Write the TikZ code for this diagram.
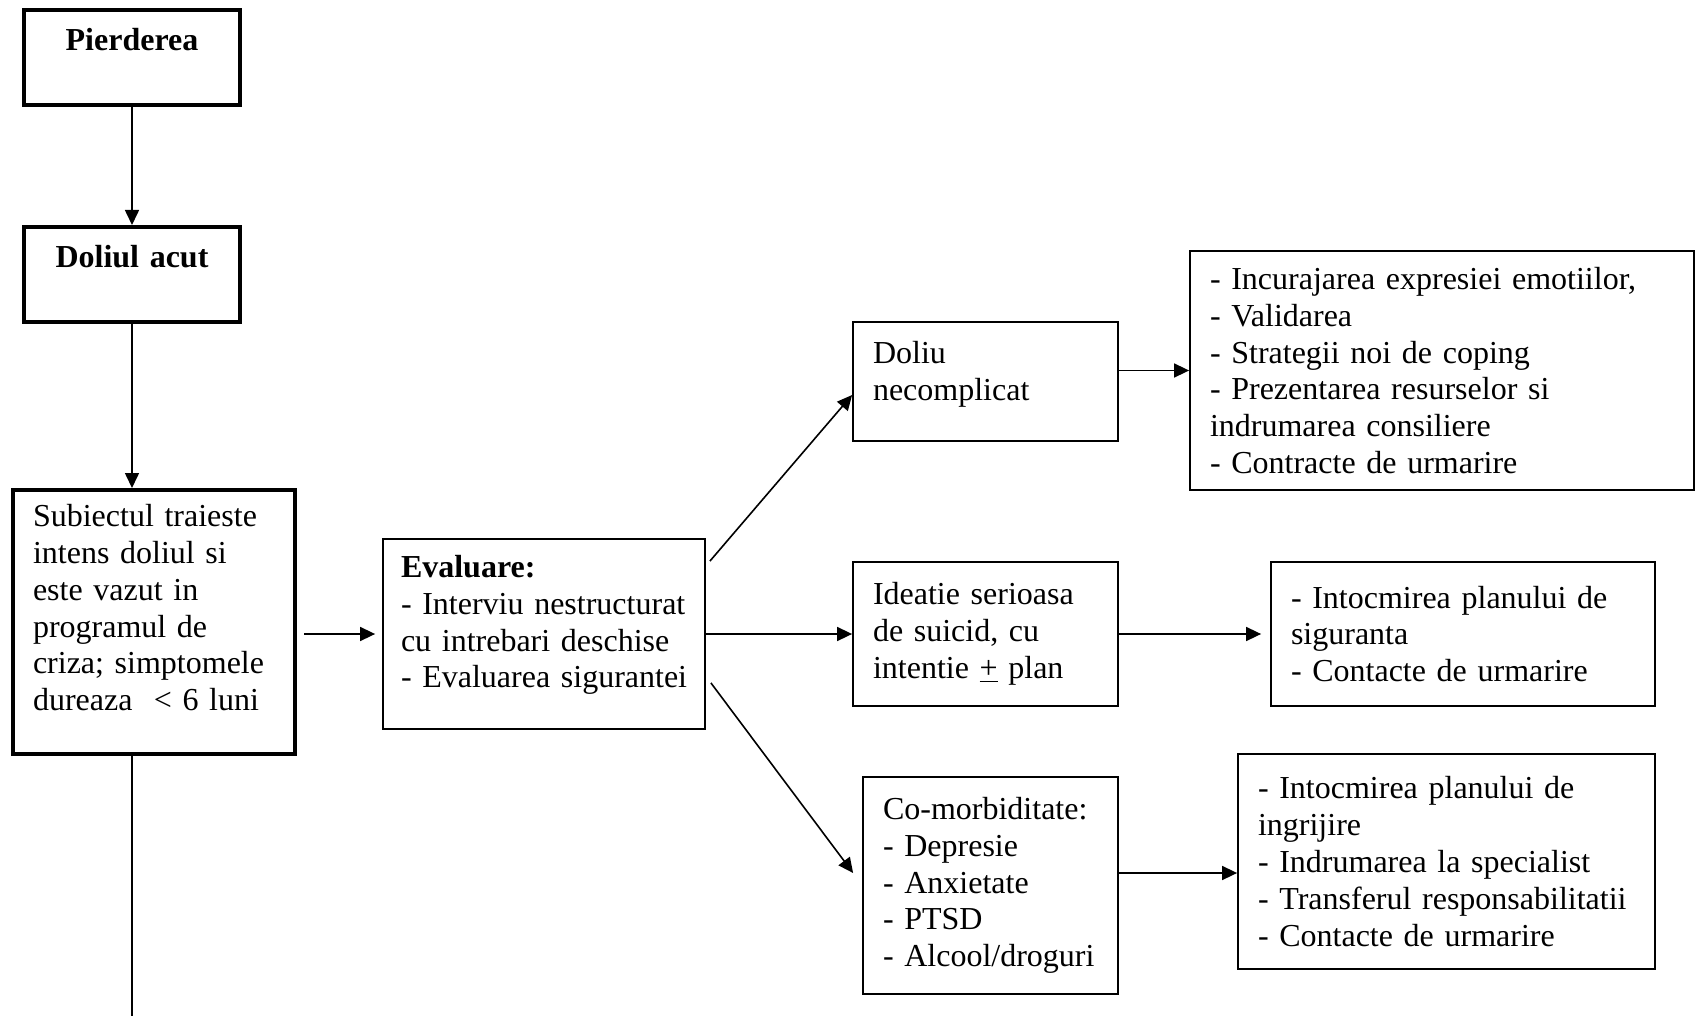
\documentclass[tikz,border=0pt]{standalone}
\usepackage{fontspec}
\setmainfont{Liberation Serif}
\usetikzlibrary{arrows.meta}

\begin{document}
\begin{tikzpicture}[x=0.5pt, y=-0.5pt,
        every node/.style={font=\fontsize{16}{18.4}\selectfont, inner xsep=10pt, inner ysep=4pt},
        box/.style={draw, line width=0.9pt, align=left},
        thickbox/.style={draw, line width=2pt},
        arr/.style={-{Triangle[length=7.5pt, width=7pt]}, line width=0.8pt}]
        \useasboundingbox (0,0) rectangle (1701,1016);

        % Left column
        \node[thickbox, align=center, text width=88pt, minimum height=47.5pt] (pierd) at (132,57.5) {\textbf{Pierderea}\\ \mbox{}};
        \node[thickbox, align=center, text width=88pt, minimum height=47.5pt] (doliul) at (132,274.5) {\textbf{Doliul acut}\\ \mbox{}};
        \node[thickbox, align=left, text width=121pt, minimum height=132pt] (subiect) at (154,622) {Subiectul traieste\\ intens doliul si\\ este vazut in\\ programul de\\ criza; simptomele\\ dureaza \ < 6 luni\\[-4pt] \mbox{}};
        \coordinate (jos) at (132,1016);

        % Evaluation
        \node[box, text width=143pt, inner xsep=9pt, minimum height=95pt] (eval) at (544,634) {\textbf{Evaluare:}\\ \mbox{- Interviu nestructurat}\\ \mbox{cu intrebari deschise}\\ \mbox{- Evaluarea sigurantei}\\[-6pt] \mbox{}};

        % Middle column
        \node[box, text width=112.5pt, minimum height=59.5pt] (necompl) at (985.5,381.5) {Doliu\\ necomplicat\\[-8pt] \mbox{}};
        \node[box, text width=112.5pt, minimum height=72pt] (ideatie) at (985.5,634) {Ideatie serioasa\\ de suicid, cu\\ intentie \underline{+} plan};
        \node[box, text width=107.5pt, minimum height=108.5pt] (comorb) at (990.5,885.5) {Co-morbiditate:\\ - Depresie\\ - Anxietate\\ - PTSD\\ - Alcool/droguri};

        % Right column
        \node[box, text width=232pt, minimum height=119.5pt] (sprijin) at (1442,370.5) {- Incurajarea expresiei emotiilor,\\ - Validarea\\ - Strategii noi de coping\\ - Prezentarea resurselor si\\ indrumarea consiliere\\ - Contracte de urmarire};
        \node[box, text width=172pt, minimum height=72pt] (plansig) at (1463,634) {- Intocmirea planului de\\ siguranta\\ - Contacte de urmarire};
        \node[box, text width=188.5pt, minimum height=107.5pt] (plangr) at (1446.5,861.5) {- Intocmirea planului de\\ ingrijire\\ - Indrumarea la specialist\\ - Transferul responsabilitatii\\ - Contacte de urmarire};

        \draw[arr] (pierd) -- (doliul);
        \draw[arr] (doliul.south) -- (doliul.south |- subiect.north);
        \draw[line width=0.8pt] (doliul.south |- subiect.south) -- (jos);
        \draw[arr, shorten <=3.5pt, shorten >=3.5pt] (subiect.east |- eval.west) -- (eval.west);

        \draw[arr] ([xshift=2pt, yshift=-11.5pt]eval.north east) -- ([yshift=-6.75pt]necompl.west);
        \draw[arr] (eval.east) -- (ideatie.west);
        \draw[arr] ([xshift=2.5pt, yshift=23.5pt]eval.south east) -- ([xshift=-4.5pt, yshift=6.25pt]comorb.west);

        \coordinate (c3) at ([yshift=6.25pt]comorb.east);
        \draw[arr] (necompl.east |- sprijin.west) -- (sprijin.west);
        \draw[arr, shorten >=4.5pt] (ideatie.east) -- (plansig.west);
        \draw[arr] (c3) -- (c3 -| plangr.west);
    \end{tikzpicture}
\end{document}
